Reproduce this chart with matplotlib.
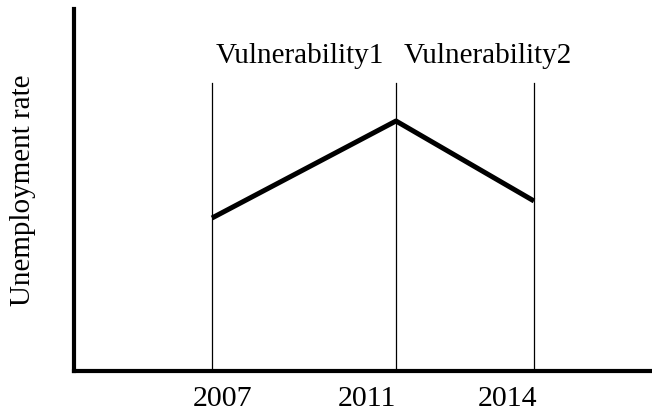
import matplotlib
matplotlib.use("Agg")
import matplotlib.pyplot as plt

years = [2007, 2011, 2014]
rate = [153, 250, 170]
line_top = 288
year_labels = ["2007", "2011", "2014"]
labels = ["Vulnerability1", "Vulnerability2"]

plt.rcParams['font.family'] = ['Liberation Serif', 'DejaVu Serif']

fig = plt.figure(figsize=(6.52, 4.16), dpi=100)
ax = fig.add_axes([74 / 652, 45 / 416, 1 - 74 / 652, 362 / 416])

# vertical marker lines
for yr in years:
    ax.plot([yr, yr], [0, line_top], color="black", lw=0.9)

ax.plot(years, rate, color="black", lw=3.6, solid_capstyle="butt")

# labels sit a little off the lines, as in the hand-made original
ax.text(2008.91, 315, labels[0], ha="center", va="center", fontsize=21)
ax.text(2013.0, 315, labels[1], ha="center", va="center", fontsize=21)

ax.set_xlim(2004.0, 2016.565)
ax.set_ylim(0, 362)
ax.set_xticks([2007.22, 2010.37, 2013.43])
ax.set_xticklabels(year_labels, fontsize=21.5)
ax.tick_params(axis="x", length=0, pad=11)
ax.set_yticks([])
ax.set_ylabel("Unemployment rate", fontsize=21, labelpad=27)

for s in ["top", "right"]:
    ax.spines[s].set_visible(False)
for s in ["left", "bottom"]:
    ax.spines[s].set_linewidth(3)

fig.savefig("out.png", dpi=100)
